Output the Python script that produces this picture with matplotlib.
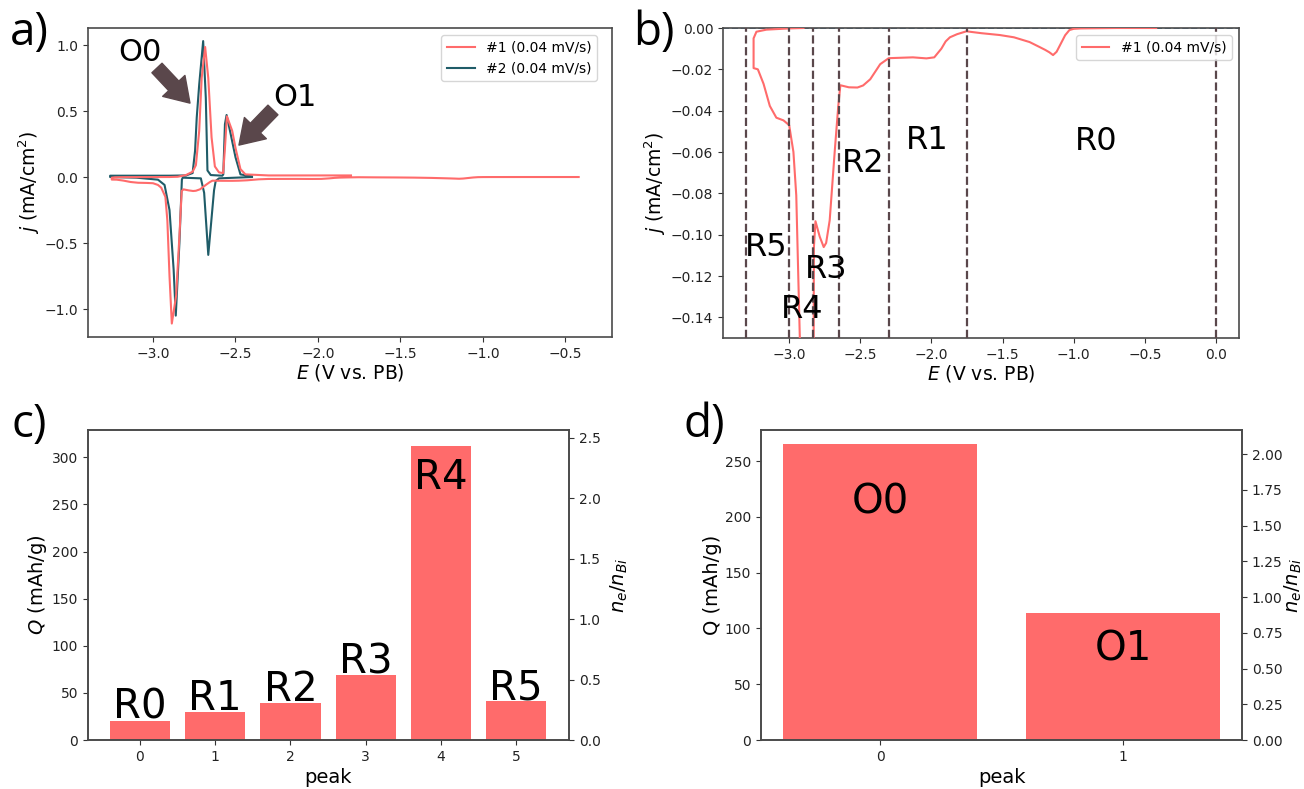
"""Cyclic voltammetry panels with peak capacity bars (four panel figure)."""
import matplotlib
matplotlib.use("Agg")
import matplotlib.pyplot as plt

PINK = "#FF6B6B"
TEAL = "#1F5C68"
ARROW = "#5A474B"
BLUE = "#3F7CA8"
SPINE = "#4A4A4A"

FIG_W = 1304
FIG_H = 789

# first cycle: cathodic sweep from -0.42 V, then anodic sweep back to -1.8 V
cycle1_e = [-0.42, -0.7, -0.95, -1.0, -1.03, -1.06, -1.09, -1.12, -1.145, -1.17, -1.2, -1.24, -1.31, -1.42, -1.52,
            -1.65, -1.754, -1.82, -1.87, -1.90, -1.93, -1.98, -2.035, -2.13, -2.30, -2.36, -2.43, -2.48, -2.52, -2.58,
            -2.64, -2.655, -2.68, -2.715, -2.74, -2.757, -2.785, -2.815, -2.826, -2.84, -2.86,
            -2.886, -2.90, -2.913, -2.925, -2.937, -2.95, -2.97, -3.0, -3.04, -3.09, -3.136, -3.18,
            -3.22, -3.25, -3.25, -3.23, -3.16, -3.0, -2.9, -2.85, -2.8, -2.76, -2.74, -2.72, -2.705,
            -2.684, -2.665, -2.645, -2.625, -2.6, -2.575, -2.565, -2.552, -2.52, -2.5, -2.47, -2.44,
            -2.3, -1.8]
cycle1_j = [0.0, 0.0, -0.0002, -0.0004, -0.001, -0.0035, -0.0075, -0.0115, -0.0131, -0.0118, -0.0106, -0.0092, -0.0068, -0.0045, -0.0034,
            -0.0025, -0.0016, -0.003, -0.0045, -0.0065, -0.010, -0.0142, -0.0147, -0.0142, -0.0146, -0.0175, -0.0248, -0.0278, -0.0288, -0.0287,
            -0.0277, -0.038, -0.06, -0.093, -0.104, -0.106, -0.101, -0.0935, -0.106, -0.45, -0.9,
            -1.11, -0.75, -0.33, -0.15, -0.117, -0.081, -0.060, -0.047, -0.0447, -0.0434, -0.0377, -0.027,
            -0.02, -0.0194, -0.005, -0.0018, -0.0008, -0.0002, 0.0, 0.002, 0.015, 0.04, 0.09, 0.35, 0.75,
            0.985, 0.75, 0.3, 0.08, 0.035, 0.03, 0.2, 0.46, 0.35, 0.22, 0.06, 0.02,
            0.012, 0.012]

# second cycle
cycle2_e = [-2.4, -2.6, -2.62, -2.63, -2.665, -2.69, -2.71, -2.82, -2.825, -2.84, -2.862, -2.875,
            -2.90, -2.93, -2.97, -3.1, -3.26, -3.26, -2.9, -2.8, -2.76, -2.745, -2.735, -2.72, -2.696,
            -2.68, -2.67, -2.65, -2.58, -2.574, -2.564, -2.554, -2.53, -2.5, -2.47, -2.4]
cycle2_j = [0.0, -0.01, -0.03, -0.1, -0.59, -0.12, -0.01, -0.005, -0.02, -0.5, -1.05, -0.7,
            -0.25, -0.06, -0.02, -0.005, 0.0, 0.01, 0.01, 0.012, 0.03, 0.2, 0.45, 0.7, 1.03,
            0.6, 0.05, 0.015, 0.01, 0.02, 0.4, 0.47, 0.33, 0.15, 0.02, 0.005]

peak_limits = [-3.3, -3.0, -2.83, -2.65, -2.3, -1.75, 0.0]

reduction_peaks = [0, 1, 2, 3, 4, 5]
reduction_q = [20.5, 29.7, 39, 68.6, 312.5, 41]
reduction_names = ["R0", "R1", "R2", "R3", "R4", "R5"]

oxidation_peaks = [0, 1]
oxidation_q = [265, 113.5]
oxidation_names = ["O0", "O1"]


def axes_from_px(fig, left, top, right, bottom):
    """Add axes from a pixel box measured from the top left corner."""
    return fig.add_axes([left / FIG_W, 1 - bottom / FIG_H,
                         (right - left) / FIG_W, (bottom - top) / FIG_H])


def style_spines(ax):
    for spine in ax.spines.values():
        spine.set_color(SPINE)
        spine.set_linewidth(1.2)
    ax.tick_params(labelsize=10, color="#333333", labelcolor="#222222")


def big_arrow(ax, tail, tip):
    ax.annotate("", xy=tip, xytext=tail,
                arrowprops=dict(facecolor=ARROW, edgecolor=ARROW, width=10, headwidth=22, headlength=17))


fig = plt.figure(figsize=(FIG_W / 100, FIG_H / 100), dpi=100)

# panel a
ax_a = axes_from_px(fig, 88, 28, 612, 337)
ax_a.plot(cycle1_e, cycle1_j, color=PINK, linewidth=1.5, label="#1 (0.04 mV/s)", zorder=3)
ax_a.plot(cycle2_e, cycle2_j, color=TEAL, linewidth=1.5, label="#2 (0.04 mV/s)", zorder=2)
ax_a.set_xlim(-3.394, -0.218)
ax_a.set_ylim(-1.212, 1.129)
ax_a.set_xticks([-3.0, -2.5, -2.0, -1.5, -1.0, -0.5])
ax_a.set_yticks([-1.0, -0.5, 0.0, 0.5, 1.0])
ax_a.set_xlabel("$E$ (V vs. PB)", fontsize=13.5, labelpad=1)
ax_a.set_ylabel("$j$ (mA/cm$^2$)", fontsize=13.5, labelpad=2)
ax_a.legend(loc="upper right", fontsize=10, bbox_to_anchor=(0.971, 0.977), borderaxespad=0)
ax_a.text(-3.08, 0.947, "O0", fontsize=22, ha="center", va="center")
ax_a.text(-2.14, 0.606, "O1", fontsize=22, ha="center", va="center")
big_arrow(ax_a, (-2.976, 0.826), (-2.776, 0.56))
big_arrow(ax_a, (-2.273, 0.508), (-2.479, 0.242))
style_spines(ax_a)

# panel b
ax_b = axes_from_px(fig, 723, 28, 1239, 338)
ax_b.plot(cycle1_e, cycle1_j, color=PINK, linewidth=1.5, label="#1 (0.04 mV/s)", zorder=3)
ax_b.axhline(0, color=BLUE, linestyle="--", linewidth=1.2, zorder=2)
for limit in peak_limits:
    ax_b.axvline(limit, color=ARROW, linestyle="--", linewidth=1.6, zorder=4)
ax_b.set_xlim(-3.465, 0.162)
ax_b.set_ylim(-0.15, 0.0)
ax_b.set_xticks([-3.0, -2.5, -2.0, -1.5, -1.0, -0.5, 0.0])
ax_b.set_yticks([-0.14, -0.12, -0.10, -0.08, -0.06, -0.04, -0.02, 0.0])
ax_b.set_xlabel("$E$ (V vs. PB)", fontsize=13.5, labelpad=1)
ax_b.set_ylabel("$j$ (mA/cm$^2$)", fontsize=13.5, labelpad=2)
ax_b.legend(loc="upper right", fontsize=10, bbox_to_anchor=(0.986, 0.977), borderaxespad=0)
for name, e_pos, j_pos in [("R5", -3.16, -0.106), ("R4", -2.91, -0.136), ("R3", -2.74, -0.117),
                           ("R2", -2.48, -0.0655), ("R1", -2.03, -0.0543), ("R0", -0.84, -0.0547)]:
    ax_b.text(e_pos, j_pos, name, fontsize=23, ha="center", va="center", zorder=5)
style_spines(ax_b)

# panel c
ax_c = axes_from_px(fig, 88, 430, 569, 740)
ax_c.bar(reduction_peaks, reduction_q, width=0.8, color=PINK)
ax_c.set_xlim(-0.69, 5.7)
ax_c.set_ylim(0, 329)
ax_c.set_xticks(reduction_peaks)
ax_c.set_yticks([0, 50, 100, 150, 200, 250, 300])
ax_c.set_xlabel("peak", fontsize=14, labelpad=3)
ax_c.set_ylabel("$Q$ (mAh/g)", fontsize=14, labelpad=2)
for peak, q, name in zip(reduction_peaks, reduction_q, reduction_names):
    if name == "R4":
        ax_c.text(peak, q - 13, name, fontsize=29, ha="center", va="top")
    else:
        ax_c.text(peak, q + 2, name, fontsize=29, ha="center", va="baseline")
style_spines(ax_c)
twin_c = ax_c.twinx()
twin_c.set_ylim(0, 2.566)
twin_c.set_yticks([0.0, 0.5, 1.0, 1.5, 2.0, 2.5])
twin_c.set_ylabel("$n_e/n_{Bi}$", fontsize=14, labelpad=6)
style_spines(twin_c)

# panel d
ax_d = axes_from_px(fig, 761, 430, 1242, 740)
ax_d.bar(oxidation_peaks, oxidation_q, width=0.8, color=PINK)
ax_d.set_xlim(-0.49, 1.49)
ax_d.set_ylim(0, 277.8)
ax_d.set_xticks(oxidation_peaks)
ax_d.set_yticks([0, 50, 100, 150, 200, 250])
ax_d.set_xlabel("peak", fontsize=14, labelpad=3)
ax_d.set_ylabel("Q (mAh/g)", fontsize=14, labelpad=2)
ax_d.text(0, 213, oxidation_names[0], fontsize=29, ha="center", va="center")
ax_d.text(1, 81, oxidation_names[1], fontsize=29, ha="center", va="center")
style_spines(ax_d)
twin_d = ax_d.twinx()
twin_d.set_ylim(0, 2.168)
twin_d.set_yticks([0.0, 0.25, 0.5, 0.75, 1.0, 1.25, 1.5, 1.75, 2.0])
twin_d.set_yticklabels(["0.00", "0.25", "0.50", "0.75", "1.00", "1.25", "1.50", "1.75", "2.00"])
twin_d.set_ylabel("$n_e/n_{Bi}$", fontsize=14, labelpad=0)
style_spines(twin_d)

# panel letters
for letter, x_px, y_px in [("a)", 10, 33), ("b)", 633, 33), ("c)", 12, 425), ("d)", 684, 425)]:
    fig.text(x_px / FIG_W, 1 - y_px / FIG_H, letter, fontsize=33, family="Open Sans", ha="left", va="center")

fig.savefig("out.png", dpi=100, facecolor="white")
plt.close(fig)
